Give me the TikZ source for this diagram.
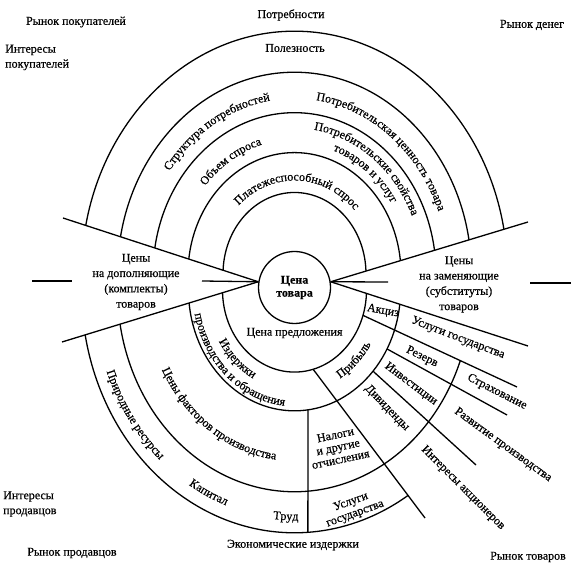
\documentclass[tikz,border=0pt]{standalone}
\usepackage{fontspec}
\setmainfont{Liberation Serif}[FakeBold=0.5]
\usetikzlibrary{decorations.text}
\tikzset{
    ringline/.style={line width=1.3pt},
    pricecircle/.style={draw, circle, line width=1.3pt, minimum size=72pt, inner sep=0pt, align=center, font=\bfseries\fontsize{12}{13}\selectfont},
    markettext/.style={align=left, inner sep=0pt, font=\fontsize{12}{15}\selectfont},
    wedgetext/.style={align=center, inner sep=0pt, font=\fontsize{12}{15.3}\selectfont},
    sectortext/.style={align=center, inner sep=0pt, font=\fontsize{12}{12.5}\selectfont},
    arctext/.style={decorate, decoration={text along path, text={#1}, text align=center}}
}
% text set along a half ring: centre, radius, start angle, end angle, text
\newcommand{\ringtext}[5]{%
    \pgfmathsetmacro\ringry{1.14*#2}
    \path[arctext={#5}] (#1) ++(#3:#2 and \ringry) arc[start angle=#3, end angle=#4, x radius=#2, y radius=\ringry];}

\begin{document}
\begin{tikzpicture}[x=1pt, y=1pt]
    \fontsize{12}{14}\selectfont
    \useasboundingbox (0,0) rectangle (578,572);
    % centres of the two half rings
    \coordinate (cu) at (294.5,298);
    \coordinate (cl) at (294.5,282);
    \node[pricecircle] (price) at (294.5,284.5) {Цена\\товара};

    % wedges of the neighbouring goods
    \coordinate (cmpup) at (63,354);
    \coordinate (cmplo) at (62,230);
    \coordinate (cmpin) at (202,291);
    \coordinate (cmpoutl) at (32,291);
    \coordinate (cmpoutr) at (72,291);
    \coordinate (subup) at (528,350);
    \coordinate (sublo) at (528,226);
    \coordinate (subin) at (388,290);
    \coordinate (suboutl) at (530,289);
    \coordinate (suboutr) at (571,289);
    \draw[ringline] (price.171) -- (cmpup);
    \draw[ringline] (price.171) -- (cmplo);
    \draw[ringline] (price.171) -- (cmpin);
    \draw[ringline] (price.9) -- (subup);
    \draw[ringline] (price.9) -- (sublo);
    \draw[ringline] (price.9) -- (subin);
    \draw[ringline] (cmpoutl) -- (cmpoutr);
    \draw[ringline] (suboutl) -- (suboutr);

    % demand side rings
    \begin{scope}
        \clip (0,374.5) -- (price.171) -- (price.9) -- (578,365.1) -- (578,572) -- (0,572) -- cycle;
        \foreach \r in {71.5,106.5,141.5,177,213} {
            \pgfmathsetmacro\ringry{1.14*\r}
            \draw[ringline] (cu) ellipse [x radius=\r, y radius=\ringry];
        }
    \end{scope}

    % supply side rings
    \begin{scope}
        \clip (0,211.1) -- (price.171) -- (price.9) -- (578,209.8) -- (578,0) -- (0,0) -- cycle;
        \foreach \r in {72,106} {
            \pgfmathsetmacro\ringry{1.14*\r}
            \draw[ringline] (cl) ellipse [x radius=\r, y radius=\ringry];
        }
        \draw[ringline] (cl) ++(150:177 and 201.78) arc[start angle=150, end angle=339.6, x radius=177, y radius=201.78];
        \draw[ringline] (cl) ++(150:213 and 242.82) arc[start angle=150, end angle=302.3, x radius=213, y radius=242.82];
    \end{scope}

    % dividing lines of the profit part
    \path (cl) ++(-18:72 and 82.08) coordinate (taxin);
    \coordinate (taxout) at (517,185);
    \path (cl) ++(-29.2:106 and 120.84) coordinate (resin);
    \coordinate (resout) at (507,157);
    \path (cl) ++(-42.2:106 and 120.84) coordinate (invin);
    \coordinate (invout) at (476,107);
    \path (cl) ++(-75:72 and 82.08) coordinate (divin);
    \coordinate (divout) at (425,54);
    \path (cl) ++(-82.7:106 and 120.84) coordinate (laborin);
    \path (cl) ++(-86.4:213 and 242.82) coordinate (laborout);
    \draw[ringline] (taxin) -- (taxout);
    \draw[ringline] (resin) -- (resout);
    \draw[ringline] (invin) -- (invout);
    \draw[ringline] (divin) -- (divout);
    \draw[ringline] (laborin) -- (laborout);

    % markets and interests
    \node[markettext] (buyers) at (76,550) {Рынок покупателей};
    \node[markettext] (needs) at (291,557) {Потребности};
    \node[markettext] (money) at (532,547) {Рынок денег};
    \node[markettext, anchor=west] (buyint) at (5,514.5) {Интересы\\покупателей};
    \node[markettext] (utility) at (295,524) {Полезность};
    \node[markettext, anchor=west] (sellint) at (3,68) {Интересы\\продавцов};
    \node[markettext] (sellers) at (72,19) {Рынок продавцов};
    \node[markettext] (costs) at (293,27) {Экономические издержки};
    \node[markettext] (goods) at (528,15) {Рынок товаров};

    \node[wedgetext] (compl) at (136,290) {Цены\\на дополняющие\\(комплекты)\\товаров};
    \node[wedgetext] (subst) at (459,287.5) {Цены\\на заменяющие\\(субституты)\\товаров};

    % texts along the rings
    \ringtext{cu}{154}{156}{86}{Структура потребностей}
    \ringtext{cu}{154}{92}{12}{Потребительская ценность товара}
    \ringtext{cu}{118}{152}{92}{Объем спроса}
    \ringtext{cu}{128}{93}{13}{Потребительские свойства}
    \ringtext{cu}{115}{82}{22}{товаров и услуг}
    \ringtext{cu}{82}{148}{28}{Платежеспособный спрос}
    \ringtext{cl}{88}{197}{257}{Издержки}
    \ringtext{cl}{102}{179}{279}{производства и обращения}
    \ringtext{cl}{150}{196}{276}{Цены факторов производства}
    \ringtext{cl}{201}{185}{245}{Природные ресурсы}
    \ringtext{cl}{201}{224.5}{264.5}{Капитал}
    \ringtext{cl}{202}{257.5}{277.5}{Труд}
    \ringtext{cl}{90}{294}{334}{Прибыль}

    % sector texts
    \node[sectortext] (supply) at (294.5,239) {Цена предложения};
    \node[sectortext, rotate=-10] (excise) at (383,261) {Акциз};
    \node[sectortext, rotate=-21] (stateup) at (458,234) {Услуги государства};
    \node[sectortext, rotate=-26] (reserve) at (422,215) {Резерв};
    \node[sectortext, rotate=-27] (insur) at (497,180) {Страхование};
    \node[sectortext, rotate=-37] (invest) at (411,188) {Инвестиции};
    \node[sectortext, rotate=-46] (divid) at (387,164) {Дивиденды};
    \node[sectortext, rotate=-36] (growth) at (503,127) {Развитие производства};
    \node[sectortext, rotate=-45] (share) at (463,84) {Интересы акционеров};
    \node[sectortext, rotate=12] (taxes) at (338,125) {Налоги\\и другие\\отчисления};
    \node[sectortext, rotate=20] (statelo) at (353,64) {Услуги\\государства};
\end{tikzpicture}
\end{document}
